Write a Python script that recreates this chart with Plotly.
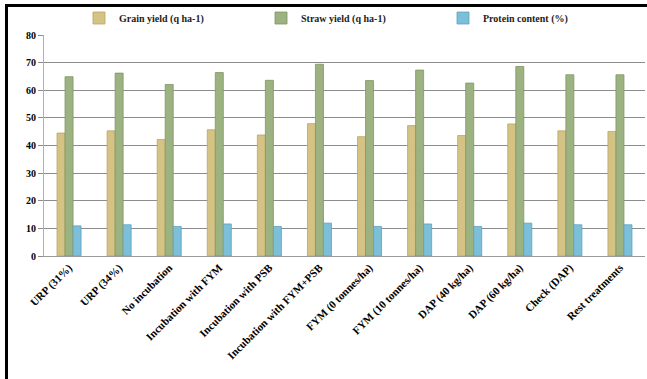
import plotly.graph_objects as go

categories = ["URP (31%)", "URP (34%)", "No incubation", "Incubation with FYM",
              "Incubation with PSB", "Incubation with FYM+PSB", "FYM (0 tonnes/ha)",
              "FYM (10 tonnes/ha)", "DAP (40 kg/ha)", "DAP (60 kg/ha)", "Check (DAP)",
              "Rest treatments"]
grain_yield = [44.5, 45.3, 42.2, 45.7, 43.8, 47.9, 43.2, 47.2, 43.6, 47.8, 45.3, 45.1]
straw_yield = [64.9, 66.2, 62.1, 66.4, 63.6, 69.4, 63.5, 67.3, 62.6, 68.6, 65.6, 65.6]
protein_content = [10.9, 11.3, 10.7, 11.6, 10.7, 11.9, 10.7, 11.6, 10.7, 11.9, 11.3, 11.3]
series_names = ["Grain yield (q ha-1)", "Straw yield (q ha-1)", "Protein content (%)"]
y_ticks = [0, 10, 20, 30, 40, 50, 60, 70, 80]

W, H = 647, 379
ML, MR, MT, MB = 44, 2, 35, 123
PW, PH = W - ML - MR, H - MT - MB

FONT = "Liberation Serif"
colors = ["#d5c386", "#9db281", "#7dbfd9"]
lines = ["#b9a660", "#7f9663", "#5aa3c0"]

fig = go.Figure()
for name, vals, c, lc in zip(series_names, [grain_yield, straw_yield, protein_content], colors, lines):
    fig.add_trace(go.Bar(x=categories, y=vals, name=name,
                         marker=dict(color=c, line=dict(color=lc, width=0.8))))

def px_x(px):
    return (px - ML) / PW

def px_y(py):
    return (H - MB - py) / PH

fig.update_layout(
    width=W, height=H,
    margin=dict(l=ML, r=MR, t=MT, b=MB, pad=0),
    paper_bgcolor="white", plot_bgcolor="white",
    barmode="group", bargap=0.52, bargroupgap=0,
    font=dict(family=FONT, size=10, color="black"),
    showlegend=True,
    legend=dict(orientation="h", x=px_x(352), xanchor="center", y=px_y(18), yanchor="middle",
                font=dict(family=FONT, size=10, color="#222", weight="bold"),
                entrywidth=137, itemwidth=30, bgcolor="rgba(0,0,0,0)"),
    xaxis=dict(tickangle=-45, tickfont=dict(family=FONT, size=11, color="black", weight="bold"),
               showline=True, linecolor="#9a9a9a", linewidth=1, ticks="", showgrid=False),
    yaxis=dict(range=[0, 80], tickvals=y_ticks, showgrid=True, gridcolor="#8c8c8c", gridwidth=1.3,
               ticks="outside", ticklen=5, tickcolor="#8c8c8c", tickwidth=1.3,
               showline=True, linecolor="#b0b0b0", linewidth=1,
               tickfont=dict(family=FONT, size=10, color="black", weight="bold"), zeroline=False),
    shapes=[
        dict(type="rect", xref="paper", yref="paper", x0=px_x(5), x1=px_x(8),
             y0=px_y(4), y1=px_y(H + 2), line=dict(width=0), fillcolor="black"),
        dict(type="rect", xref="paper", yref="paper", x0=px_x(5), x1=px_x(W),
             y0=px_y(4), y1=px_y(7), line=dict(width=0), fillcolor="black"),
    ],
)

fig.write_html("out.html")
